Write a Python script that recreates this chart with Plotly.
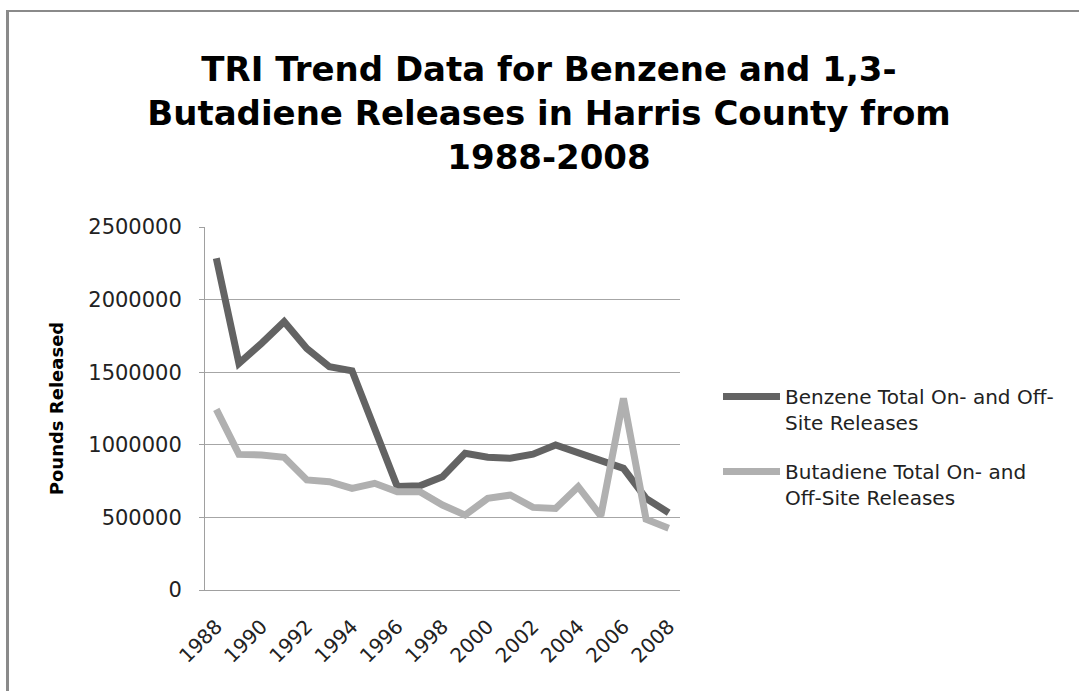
import plotly.graph_objects as go

years = list(range(1988, 2009))
benzene = [2284000, 1561000, 1699000, 1848000, 1664000, 1538000, 1510000, 1113000,
           712000, 718000, 780000, 941000, 914000, 907000, 935000, 999000, 946000,
           891000, 838000, 631000, 532000]
butadiene = [1244000, 934000, 930000, 914000, 758000, 746000, 700000, 735000,
             677000, 677000, 585000, 516000, 631000, 654000, 569000, 562000, 712000,
             510000, 1320000, 487000, 425000]
tick_years = list(range(1988, 2009, 2))
y_ticks = [0, 500000, 1000000, 1500000, 2000000, 2500000]

W, H = 1079, 691
L, R, T, B = 205, 680, 227, 590

def px(x):
    return (x - L) / (R - L)

def py(y):
    return (B - y) / (B - T)

fig = go.Figure()
fig.add_trace(go.Scatter(
    x=years, y=benzene, mode="lines", legendgroup="benzene",
    name="Benzene Total On- and Off-<br>Site Releases",
    line=dict(color="#636363", width=7)))
fig.add_trace(go.Scatter(
    x=years, y=butadiene, mode="lines", legendgroup="butadiene",
    name="Butadiene Total On- and<br>Off-Site Releases",
    line=dict(color="#b0b0b0", width=7)))

fig.update_layout(
    width=W, height=H,
    margin=dict(l=L, r=W - R, t=T, b=H - B),
    paper_bgcolor="white", plot_bgcolor="white",
    title=dict(
        text="TRI Trend Data for Benzene and 1,3-"
             "<br>Butadiene Releases in Harris County from<br>1988-2008",
        x=549 / W, xref="container", xanchor="center",
        y=1 - 81 / H, yref="container", yanchor="top",
        font=dict(family="DejaVu Sans", size=34, color="black", weight="bold"),
    ),
    font=dict(family="DejaVu Sans", color="#222222"),
    showlegend=True,
    legend=dict(
        x=px(718), xanchor="left", y=py(377), yanchor="top",
        font=dict(family="DejaVu Sans", size=20, color="#222222"),
        itemwidth=57, valign="top", traceorder="grouped", tracegroupgap=20,
        bgcolor="rgba(0,0,0,0)",
    ),
    xaxis=dict(
        range=[1987.5, 2008.5], tickvals=tick_years, ticktext=[str(y) for y in tick_years],
        tickangle=-45, tickfont=dict(family="DejaVu Sans", size=20, color="#222222"),
        showgrid=False, zeroline=False,
        showline=True, linecolor="#a0a0a0", linewidth=1,
        ticks="", ticklabelstandoff=16, fixedrange=True,
    ),
    yaxis=dict(
        range=[0, 2500000], tickvals=y_ticks, ticktext=[str(v) for v in y_ticks],
        tickfont=dict(family="DejaVu Sans", size=21, color="#222222"),
        showgrid=True, gridcolor="#a6a6a6", gridwidth=1, zeroline=False,
        showline=True, linecolor="#a0a0a0", linewidth=1,
        ticks="outside", ticklen=5, tickcolor="#a0a0a0", ticklabelstandoff=13,
        title=dict(text="<b>Pounds Released</b>", standoff=19,
                   font=dict(family="DejaVu Sans", size=18, color="black")),
        fixedrange=True,
    ),
    shapes=[
        dict(type="line", xref="paper", yref="paper",
             x0=px(7.5), x1=px(7.5), y0=py(10), y1=py(720),
             line=dict(color="#8a8a8a", width=3)),
        dict(type="line", xref="paper", yref="paper",
             x0=px(6), x1=px(1100), y0=py(11), y1=py(11),
             line=dict(color="#8a8a8a", width=2)),
    ],
)

fig.write_html("out.html")
